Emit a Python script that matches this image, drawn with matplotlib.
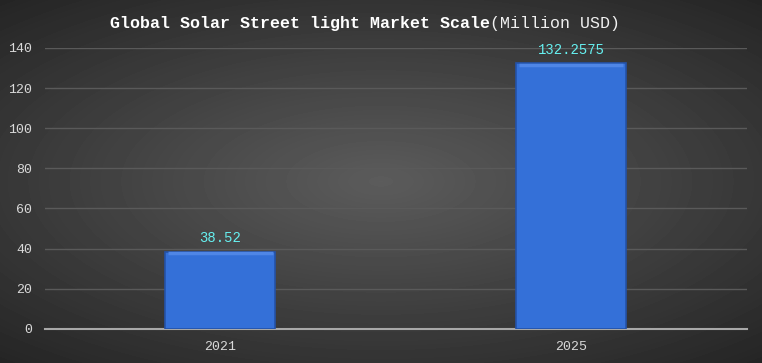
import numpy as np
import matplotlib
matplotlib.use("Agg")
import matplotlib.pyplot as plt

years = ["2021", "2025"]
market_scale = [38.52, 132.2575]
value_labels = ["38.52", "132.2575"]
y_ticks = [0, 20, 40, 60, 80, 100, 120, 140]

plt.rcParams['font.family'] = ['Liberation Mono', 'DejaVu Sans Mono']

fig = plt.figure(figsize=(7.62, 3.63), dpi=100)

# radial gradient background
bg = fig.add_axes([0, 0, 1, 1], zorder=0)
yy, xx = np.mgrid[-1:1:363j, -1:1:762j]
r = np.sqrt((xx * 0.9) ** 2 + (yy * 1.0) ** 2)
shade = np.clip(0.36 - 0.16 * r, 0.14, 0.36)
bg.imshow(shade, cmap='gray', vmin=0, vmax=1, aspect='auto', extent=[0, 1, 0, 1])
bg.axis('off')

ax = fig.add_axes([0.059, 0.094, 0.921, 0.774], zorder=1)
ax.patch.set_alpha(0)

x = np.arange(len(years))
w = 0.313
ax.bar(x, market_scale, width=w, color='#3470d8', edgecolor='#2452a8', linewidth=1.2, zorder=3)
# soft bevel highlight on bar tops
for xi, v in zip(x, market_scale):
    ax.plot([xi - w / 2 + 0.008, xi + w / 2 - 0.008], [v - 0.9, v - 0.9], color='#4f86e6', lw=2.5, zorder=4,
            solid_capstyle='butt')

for xi, v, lab in zip(x, market_scale, value_labels):
    ax.annotate(lab, (xi, v), xytext=(0, 5), textcoords='offset points', ha='center', va='bottom',
                color='#66f0f0', fontsize=10)

ax.set_xlim(-0.5, 1.5)
ax.set_ylim(0, 140)
ax.set_yticks(y_ticks)
ax.set_xticks(x)
ax.set_xticklabels(years)
ax.grid(axis='y', color='#5a5a5a', lw=1, zorder=0)
ax.set_axisbelow(True)
for s in ['top', 'right', 'left']:
    ax.spines[s].set_visible(False)
ax.spines['bottom'].set_color('#a8a8a8')
ax.spines['bottom'].set_linewidth(1.5)
ax.tick_params(length=0, colors='#d9d9d9', labelsize=9.5)
ax.tick_params(axis='y', pad=9)
ax.tick_params(axis='x', pad=9)

# title: bold main part, regular unit part
split = 490 / 762
fig.text(split, 0.935, "Global Solar Street light Market Scale", ha='right', va='center',
         color='white', fontsize=12, fontweight='bold')
fig.text(split, 0.935, "(Million USD)", ha='left', va='center',
         color='#f0f0f0', fontsize=12)

fig.savefig('out.png', dpi=100)
